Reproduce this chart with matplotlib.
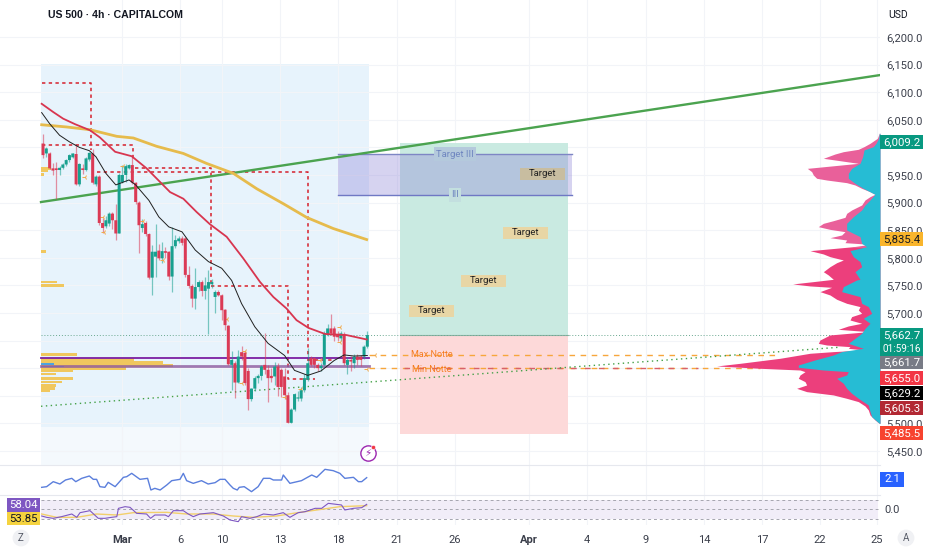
import matplotlib
matplotlib.use("Agg")
from matplotlib import pyplot as plt
from matplotlib.patches import Rectangle

plt.rcParams['font.family'] = ['Roboto', 'DejaVu Sans']

# candles
opens = [6007,5989,5989,5962,5962,5959,5963,5969,5977,5982,
         5988,5933,5962,5959,5978,5989,5933,5947,5863,5857,
         5862,5880,5868,5844,5937,5950,5962,5968,5936,5900,
         5854,5863,5843,5764,5802,5813,5799,5812,5811,5766,
         5821,5830,5835,5835,5769,5749,5726,5747,5756,5740,
         5744,5752,5729,5738,5732,5706,5677,5606,5609,5574,
         5629,5628,5595,5544,5563,5582,5586,5606,5597,5586,
         5585,5603,5597,5585,5551,5501,5525,5545,5545,5560,
         5579,5618,5618,5606,5600,5606,5660,5672,5672,5660,
         5654,5662,5606,5615,5609,5621,5621,5621,5639]
closes = [5986,5998,5962,5958,5959,5963,5969,5977,5986,5989,
          5933,5970,5959,5980,5990,5936,5947,5863,5854,5868,
          5880,5868,5844,5950,5950,5966,5968,5936,5901,5859,
          5861,5843,5764,5811,5811,5799,5812,5809,5766,5821,
          5832,5835,5827,5769,5749,5726,5747,5756,5740,5750,
          5756,5756,5738,5732,5705,5678,5607,5615,5574,5621,
          5621,5573,5544,5563,5582,5586,5603,5597,5582,5582,
          5603,5566,5566,5551,5501,5525,5553,5547,5560,5582,
          5609,5606,5606,5600,5604,5663,5672,5663,5657,5656,
          5663,5609,5615,5612,5621,5615,5615,5639,5660]
highs = [6025,6000,5992,5972,5974,5966,5972,5979,5988,5990,
         6007,5972,5970,5983,5992,5997,5950,5950,5872,5875,
         5883,5883,5898,5953,5968,5970,5970,5986,5938,5902,
         5870,5866,5845,5823,5862,5825,5828,5820,5813,5855,
         5842,5840,5840,5837,5785,5752,5782,5760,5759,5765,
         5777,5762,5742,5742,5735,5708,5678,5632,5613,5633,
         5640,5632,5600,5565,5585,5590,5606,5663,5606,5600,
         5612,5610,5600,5600,5556,5528,5555,5558,5566,5590,
         5636,5622,5620,5610,5610,5668,5680,5699,5676,5668,
         5668,5665,5620,5622,5626,5625,5624,5642,5668]
lows = [5980,5983,5960,5950,5907,5950,5960,5966,5974,5980,
        5931,5930,5952,5957,5976,5933,5930,5860,5844,5854,
        5858,5852,5833,5844,5935,5937,5960,5934,5898,5808,
        5846,5840,5762,5732,5766,5796,5790,5800,5760,5738,
        5818,5827,5824,5766,5745,5710,5708,5740,5730,5725,
        5662,5745,5700,5730,5688,5670,5605,5560,5546,5574,
        5615,5570,5525,5540,5558,5574,5579,5590,5539,5575,
        5570,5550,5548,5545,5500,5500,5522,5540,5540,5556,
        5576,5604,5600,5595,5595,5604,5658,5660,5650,5650,
        5650,5605,5590,5595,5600,5605,5604,5616,5636]

black_x = [-0.4,2,5,8,11,14,16,19,22,26,28,32,35,38,42,46,50,54,57,60,64,68,73,76,80,84,88,91,94,98]
black_y = [6063,6043,6022,6010,6000,5994,5983,5953,5932,5941,5932,5904,5874,5856,5847,5814,5793,5781,5759,5717,5675,5645,5623,5596,5587,5595,5614,5624,5622,5623]
red_x = [-0.4,3.1,6.1,9.7,14.2,17.2,21.8,26.8,31.3,38.4,42.4,46.4,50.4,55.5,60.5,65.6,69.6,73.6,76.6,80.2,85.2,91.7,97.8]
red_y = [6079,6064,6052,6042,6031,6018,5992,5984,5962,5919,5907,5883,5861,5838,5799,5756,5729,5708,5687,5673,5662,5660,5652]
gold_x = [-0.4,7.1,14.2,22.3,27.3,34.3,42.4,49.4,57.5,64.6,72.6,79.7,87.7,97.8]
gold_y = [6041,6037,6032,6020,6017,6002,5989,5971,5953,5925,5898,5873,5853,5833]

# small orange marks next to candles
mark_x = [18.2,18.4,30.3,24.3,12.7,36.4,61,60.2,55.5,73.1,78.1,89.7,89.7,83.7,97.8,100.3]
mark_y = [5874,5847,5867,5966,5947,5796,5632,5573,5690,5548,5563,5675,5648,5614,5599,5624]

# left fixed range profile
vp_prices = [5962,5958,5951,5811,5756,5750,5625,5616,5610,5605,5599,5595,5589,5581,5575,5569,5563,5559]
vp_sizes = [3,2,1,1.5,4.8,6.8,11,28,37,40,25.7,9.6,4.5,9.6,6.2,4.5,4.2,2.8]

# right visible range profile
vr_prices = [6025.5,6016.4,6007.3,6001.3,5996.5,5992.2,5988,5980.2,5975.9,5971.1,5962,5956,5950,5944,5940.9,5936.1,
             5931.9,5925.8,5919.8,5915,5910.7,5904.7,5895.6,5886.6,5880.5,5873.3,5867.2,5862.4,5856.4,5851.5,5847.3,
             5841.3,5836.4,5832.2,5827.4,5824.4,5820.1,5812.9,5806.9,5802,5796,5791.1,5783.9,5774.8,5768.8,5761,
             5756.8,5752.6,5749,5746.5,5738.7,5732.6,5724.8,5717.5,5711.5,5705.4,5699.4,5693.4,5687.3,5681.3,5676.5,
             5670.4,5666.2,5660.2,5651.1,5645,5642,5639,5636,5633,5630,5627,5617.9,5608.8,5604,5599.8,5596.7,5593.7,
             5587.7,5581.6,5575.6,5569.6,5563.5,5557.5,5551.5,5545.4,5539.4,5531.5,5524.3,5515.2,5506.2,5500.1]
vr_total = [2,8,30,48,65,110,135,170,120,65,218,205,200,190,160,100,
            75,55,30,15,30,45,55,85,100,105,140,170,185,150,105,
            115,150,100,105,30,80,210,170,150,110,130,150,170,155,140,
            200,262,210,145,180,150,130,100,60,65,55,85,90,55,95,
            125,35,150,180,185,160,90,95,48,140,210,300,420,490,360,240,225,
            240,245,225,220,250,220,140,100,65,45,35,30,15,2]
vu_prices = [6025.5,6016.4,6007.3,6001.3,5995.3,5983.2,5971.1,5962,5953,5944,5934.9,5925.8,5915,5904.7,5895.6,5886.6,
             5874.5,5862.4,5850.3,5838.3,5826.2,5820.1,5812.9,5802,5793,5783.9,5774.8,5761,
             5759.8,5747.7,5738.7,5729.6,5717.5,5711.5,5699.4,5690.3,5681.3,5672.2,5663.2,5654.1,5645,5636,5630,5623.9,
             5614.9,5605.8,5601.6,5596.7,5593.7,5587.7,5581.6,5572.6,5563.5,5554.5,5545.4,5533.3,5521.3,5512.2,5503.1,5500.1]
vu_up = [2,4,12,20,48,52,60,85,95,95,75,50,15,30,45,55,
         80,100,100,60,55,40,90,80,60,55,75,60,
         70,110,115,60,55,35,25,50,30,45,55,75,95,50,115,140,
         195,245,245,170,95,100,130,110,100,85,65,35,30,25,8,2]

# sub panes
cci_x = [-0.4,1.1,3.1,5.1,6.8,8.7,9.9,11.7,14,15.2,16.2,17.2,18.7,19.7,21.8,24.3,25.3,26.8,29.3,31.6,32.6,33.8,35.4,37.4,38.9,41.4,42.4,43.4,45.4,47.9,49.9,52,53.5,55,56.5,57.5,58.7,59.3,60.8,63,65,66.6,68.6,69.6,72.1,72.6,74.6,78.1,81.2,82.7,85.2,87.7,89.7,91.2,93.8,95.3,96.3,97.8]
cci_y = [1.52,1.56,1.86,1.72,1.96,2.06,1.86,2.06,2.2,2.0,2.0,1.56,1.52,1.82,1.56,2.12,2.16,2.36,2.0,2.06,1.36,1.46,1.36,1.66,1.92,2.0,2.36,1.92,1.76,1.92,1.72,1.8,2.0,2.0,1.66,1.46,1.36,1.52,1.56,1.26,1.56,2.06,2.06,1.96,1.96,2.26,1.76,1.92,2.26,2.12,2.6,2.52,2.36,2.06,2.12,1.86,1.86,2.1]
rsi_x = [-0.4,1.1,3.1,5.6,8.7,10.2,11.2,14.2,16.7,18.7,20.7,22.3,22.8,24.8,26.3,28.3,31.3,32.5,33.8,36.9,37.9,39.4,42.4,43.9,45.4,47.4,51.5,54.5,56.5,59,60,62.5,64.6,66.6,69.6,72.6,74.6,77.1,79.2,82.2,84.2,86.2,90.2,91.2,93.8,96.3,97.8]
rsi_y = [36,33.2,31.1,34.6,40.2,33.2,43,47.2,31.1,31.1,33.2,34.6,52.1,55.6,54.2,41.6,40.2,31.1,38.1,38.1,34.6,47.2,47.2,40.2,34.6,40.2,43,36,27.6,24.1,34.6,31.1,34.6,40.2,38.1,43,33.2,43,45.1,52.1,52.1,62.6,59.1,48.6,52.1,53.5,60.5]
rsi_ma_x = [-0.4,4.1,10.2,16.2,22.3,27.3,37.4,43.4,51.5,57.5,63.5,70.6,75.6,82.7,89.7,97.8]
rsi_ma_y = [40.2,33.2,33.2,40.2,38.1,43,43.7,40.2,40.2,36,33.2,36,41.6,48.6,55.6,57.7]

date_pos = [23.9,41.4,54.1,71.6,89.1,106.9,124.5,146.8,164.4,182.2,199.7,217.2,234.7,252]
date_labels = ["Mar","6","10","13","18","21","26","Apr","4","9","14","17","22","25"]
price_ticks = [5450,5500,5550,5600,5650,5700,5750,5800,5850,5900,5950,6000,6050,6100,6150,6200]
# these labels sit fully behind the price tags
hidden_ticks = [5550,5600,5650,6000]

tag_labels = ["6,009.2","5,835.4","5,662.7","5,661.7","5,655.0","5,629.2","5,605.3","5,485.5"]
tag_rows = [142,239,335,362,378,393,408,433]
tag_colors = ["#089981","#f9b52c","#089981","#787b86","#f23645","#000000","#b22833","#f7432f"]
tag_text = ["white","#131722","white","white","white","white","white","white"]

W, H = 932, 550
UP, DOWN = "#17a08f", "#db3a55"
X0, X1 = -12.99, 252.9


def pane(top, bottom):
    return fig.add_axes([0, 1 - bottom / H, 880 / W, (bottom - top) / H])


def tag(label, y, color, text_color="white", h=15, x0=880, x1=923, fs=8.2):
    fig.patches.append(Rectangle((x0 / W, 1 - (y + h / 2) / H), (x1 - x0) / W, h / H, transform=fig.transFigure,
                                 fc=color, ec="none", zorder=5))
    fig.text((x0 + x1) / 2 / W, 1 - y / H, label, color=text_color, fontsize=fs, ha="center", va="center", zorder=6)


fig = plt.figure(figsize=(W / 100, H / 100), dpi=100)
ax = pane(0, 465)
ax.set_xlim(X0, X1)
ax.set_ylim(5424.6, 6267)
ax.yaxis.tick_right()
ax.set_yticks(price_ticks)
ax.set_yticklabels(["" if p in hidden_ticks else f"{p:,.1f}" for p in price_ticks], fontsize=8, color="#3a3e4a")
ax.tick_params(axis="y", length=0, pad=4.5)
ax.set_xticks(date_pos)
ax.tick_params(axis="x", length=0, labelbottom=False)
ax.grid(True, color="#f2f4f8", lw=0.8)
ax.set_axisbelow(True)
for s in ax.spines.values():
    s.set_visible(False)

# shaded session box
ax.axvspan(-0.6, 98.5, ymin=(5493 - 5424.6) / 842.4, ymax=(6151 - 5424.6) / 842.4, color="#e7f3fc", lw=0, zorder=0.5)
ax.axvspan(-0.6, 98.5, ymin=0, ymax=(5493 - 5424.6) / 842.4, color="#f4f9fd", lw=0, zorder=0.5)

# position tool
ax.fill_between([107.9, 158.6], 5660, 6008, color="#c9eae1", lw=0, zorder=1)
ax.fill_between([107.9, 158.6], 5481, 5660, color="#fdd9d9", lw=0, zorder=1)
ax.plot([107.9, 158.6], [5660, 5660], color="#8fb3a5", lw=0.8, zorder=1.1)

# purple box
ax.fill_between([89.1, 159.8], 5914, 5988, color="#8f86d8", alpha=0.36, lw=0, zorder=1.2)
ax.plot([89.1, 159.8], [5988, 5988], color="#7e86c4", lw=1, zorder=1.3)
ax.plot([89.1, 159.8], [5914, 5914], color="#6f78c4", lw=1, zorder=1.3)
ax.text(124.5, 5988, "Target III", color="#6f86c0", fontsize=6.8, ha="center", va="center", zorder=1.4,
        bbox=dict(fc="#b4c9dc", ec="none", pad=1.8))
ax.text(124.5, 5914, "III", color="#6f86c0", fontsize=6.8, ha="center", va="center", zorder=1.4,
        bbox=dict(fc="#c3dfdf", ec="none", pad=1.8))

# left profile
ax.barh(vp_prices, vp_sizes, left=-0.6, height=4.5, color="#f0c75e", lw=0, zorder=1.5)
ax.barh([5607, 5603], [4, 7], left=-0.6, height=3.5, color="#4aa3e0", lw=0, zorder=1.6)

# red dashed steps
steps = [([-0.4, 14.4, 14.4], [6116, 6116, 5995]),
         ([-0.4, 27.1, 27.1], [6005, 6005, 5977]),
         ([27.8, 50.8, 50.8], [5962, 5962, 5753]),
         ([16.2, 80, 80], [5956, 5956, 5611]),
         ([50.8, 74.1, 74.1, 82.2], [5749, 5749, 5581, 5581]),
         ([80, 87.7], [5614, 5614])]
for sx, sy in steps:
    ax.plot(sx, sy, color="#d6202c", lw=1.1, ls=(0, (2.2, 2.2)), zorder=2)

# long lines
ax.plot([-0.6, 252.9], [5901, 6131], color="#4ba34f", lw=1.7, zorder=2.2)
ax.plot([-0.6, 240.8], [5531, 5638], color="#43a047", lw=1, ls=(0, (1, 2.5)), zorder=2.2)
ax.plot([-0.6, 252.9], [5660, 5660], color="#6aa890", lw=0.7, ls=(0, (1, 2)), zorder=1.2)

# horizontal levels
ax.plot([-0.6, 98.5], [5619, 5619], color="#7b1fa2", lw=1.3, zorder=2.1)
ax.plot([-0.6, 98.5], [5603.5, 5603.5], color="#8e5a9e", lw=2, alpha=0.8, zorder=2.1)
ax.plot([98.5, 222.7], [5624, 5624], color="#f7a63c", lw=1, ls=(0, (4, 4)), zorder=2.1)
ax.plot([98.5, 216.6], [5600, 5600], color="#f7a63c", lw=1, ls=(0, (4, 4)), zorder=2.1)
ax.plot([109, 198], [5601, 5601], color="#d9606a", lw=1, ls=(0, (4, 6)), zorder=2.1)
ax.plot([231.7, 249.8], [5601, 5601], color="#787b86", lw=1, ls=(0, (4, 4)), zorder=3.2)
ax.text(117.5, 5624, "Max Notte", color="#f57c1f", fontsize=6.5, ha="center", va="center", zorder=2.3)
ax.text(117.5, 5597, "Min Notte", color="#f57c1f", fontsize=6.5, ha="center", va="center", zorder=2.3)

# target labels
for tx, ty, fc in [(117.5, 5704, "#e8d6a5"), (133.2, 5758, "#e8d6a5"), (145.9, 5845, "#e8d6a5"), (150.8, 5952, "#c8bda0")]:
    ax.fill_between([tx - 6.8, tx + 6.8], ty - 10.5, ty + 10.5, color=fc, lw=0, zorder=2.25)
    ax.text(tx, ty, "Target", color="#222222", fontsize=6.8, ha="center", va="center", zorder=2.3)

# moving averages and candles
for i in range(len(opens)):
    color = UP if closes[i] >= opens[i] else DOWN
    ax.vlines(i, lows[i], highs[i], color=color, lw=0.9, alpha=0.55, zorder=3)
    body = ax.bar(i, abs(closes[i] - opens[i]), bottom=min(opens[i], closes[i]), width=0.9, color=color, lw=0, zorder=3.1)
    body[0].set_snap(False)
ax.plot(mark_x, mark_y, ls="", marker="3", ms=4, color="#f0a94a", mew=0.7, zorder=3.05)
ax.plot(gold_x, gold_y, color="#e6bb4c", lw=2, zorder=3.3)
ax.plot(red_x, red_y, color="#d8354f", lw=1.3, zorder=3.4)
ax.plot(black_x, black_y, color="#1f1f1f", lw=0.7, zorder=3.5)

# right profile on its own scale
vr = ax.twiny()
vr.set_xlim(2640, 0)
vr.axis("off")
vr.fill_betweenx(vr_prices, 0, vr_total, where=[p >= 5820 for p in vr_prices], color="#e9609a", lw=0, zorder=1)
vr.fill_betweenx(vr_prices, 0, vr_total, where=[p <= 5821 for p in vr_prices], color="#ec3f7c", lw=0, zorder=1)
vr.fill_betweenx(vu_prices, 0, vu_up, color="#26bcd4", lw=0, zorder=2)

# upper sub pane
ax2 = pane(465, 495)
ax2.set_xlim(X0, X1)
ax2.set_ylim(1.06, 2.86)
ax2.plot(cci_x, cci_y, color="#5b7fdc", lw=1)

# rsi pane
ax3 = pane(495, 525)
ax3.set_xlim(X0, X1)
ax3.set_ylim(17.1, 80.1)
ax3.axhspan(30, 70, xmin=(-0.6 - X0) / (X1 - X0), xmax=(252.4 - X0) / (X1 - X0), color="#f1edf8", lw=0)
ax3.hlines([70, 50, 30], -0.6, 252.4, color="#a5a5af", lw=0.7, ls=(0, (3, 3)))
ax3.plot(rsi_ma_x, rsi_ma_y, color="#f2cf6b", lw=1)
ax3.plot(rsi_x, rsi_y, color="#7e57c2", lw=0.8)

for a in (ax2, ax3):
    a.set_xticks(date_pos)
    a.set_yticks([])
    a.grid(True, axis="x", color="#f2f4f8", lw=0.8)
    a.set_axisbelow(True)
    a.tick_params(axis="x", length=0, labelbottom=False)
    for s in a.spines.values():
        s.set_visible(False)
ax3.tick_params(axis="x", labelbottom=True, pad=7, labelcolor="#3a3e4a", labelsize=8)
ax3.set_xticklabels(date_labels)
for lab in ax3.get_xticklabels():
    if lab.get_text() in ("Mar", "Apr"):
        lab.set_fontweight("bold")

# pane separators
for y in (465, 495):
    fig.add_artist(plt.Line2D([0, 880 / W], [1 - y / H, 1 - y / H], color="#e6e8ee", lw=0.8))

# price tags
for label, y, c, t in zip(tag_labels, tag_rows, tag_colors, tag_text):
    tag(label, y, c, t, h=14.5)
fig.patches.append(Rectangle((880 / W, 1 - 356 / H), 43 / W, 14 / H, transform=fig.transFigure, fc="#089981", ec="none", zorder=5))
fig.text(901.5 / W, 1 - 348.5 / H, "01:59:16", color="white", fontsize=7.2, ha="center", va="center", zorder=7)
tag("2.1", 479, "#2962ff", h=15, x0=880, x1=904)
fig.text(892 / W, 1 - 510 / H, "0.0", color="#3a3e4a", fontsize=8, ha="center", va="center")
tag("58.04", 505, "#7e57c2", h=14, x0=7, x1=40)
tag("53.85", 518.5, "#f5d33f", "#131722", h=13, x0=7, x1=40)

# header and corners
fig.text(48 / W, 1 - 15 / H, "US 500 · 4h · CAPITALCOM", fontsize=7.6, fontweight="bold", color="#131722",
         family=["Liberation Sans", "DejaVu Sans"], ha="left", va="center")
fig.text(898 / W, 1 - 15 / H, "USD", fontsize=7.5, color="#131722", ha="center", va="center")
for cx, letter in ((21, "Z"), (906, "A")):
    fig.text(cx / W, 1 - 538 / H, letter, fontsize=7, color="#555a66", ha="center", va="center",
             bbox=dict(boxstyle="circle,pad=0.35", fc="#f0f1f4", ec="none"))

# flash icon
fig.add_artist(plt.Line2D([368 / W], [1 - 453 / H], marker="o", ms=11, mfc="white", mec="#9c27b0", mew=1, ls=""))
fig.text(368 / W, 1 - 453 / H, "⚡", fontsize=7.5, color="#9c27b0", ha="center", va="center", family=["DejaVu Sans"], zorder=6)
fig.add_artist(plt.Line2D([373 / W], [1 - 447 / H], marker="o", ms=3, mfc="#f23645", mec="white", mew=0.4, ls=""))

fig.savefig("out.png", dpi=100)
